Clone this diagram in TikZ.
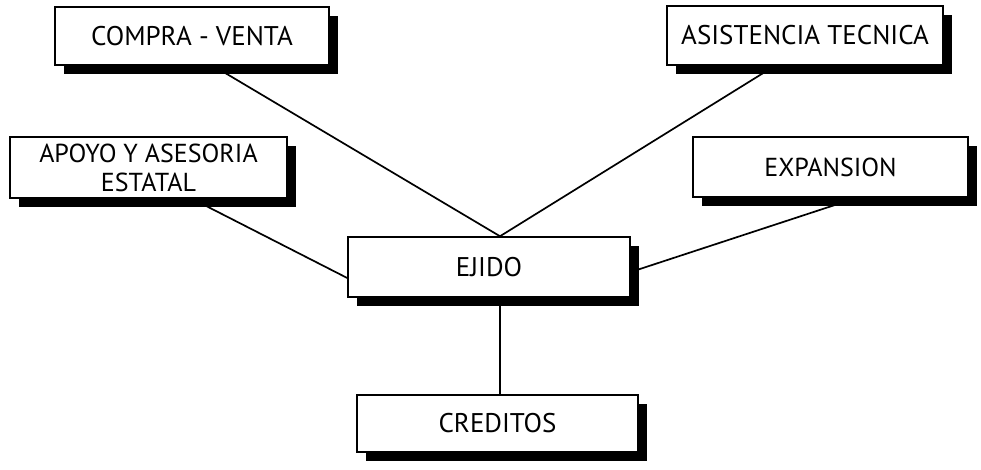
\documentclass[tikz,border=0pt]{standalone}
\usepackage{fontspec}
\setmainfont{PT Sans}
\usetikzlibrary{shadows,calc,backgrounds}
\begin{document}
\begin{tikzpicture}[x=1pt,y=1pt,
  box/.style={draw=black, line width=1.5pt, fill=white, align=center,
    inner sep=0pt, font=\fontsize{27}{29}\selectfont,
    drop shadow={shadow xshift=9pt, shadow yshift=-9pt, fill=black, opacity=1}},
  link/.style={line width=1.7pt}]
\useasboundingbox (0,0) rectangle (981,469);
\node[box, minimum width=274pt, minimum height=58pt] (compra) at (192,433) {COMPRA - VENTA};
\node[box, minimum width=276pt, minimum height=59pt] (asist) at (805,433.5) {ASISTENCIA TECNICA};
\node[box, minimum width=277pt, minimum height=61pt, font=\fontsize{26}{29}\selectfont] (apoyo) at (148.5,301.5) {APOYO Y ASESORIA\\ESTATAL};
\node[box, minimum width=275pt, minimum height=60pt, font=\fontsize{26}{29}\selectfont] (expan) at (830.5,302) {EXPANSION};
\node[box, minimum width=282pt, minimum height=60pt, font=\fontsize{27}{29}\selectfont] (ejido) at (489,202) {EJIDO};
\node[box, minimum width=281pt, minimum height=57pt] (cred) at (497.5,45.5) {CREDITOS};
\begin{scope}[on background layer]
\draw[link] ([xshift=21pt]compra.south) -- ([xshift=11pt]ejido.north);
\draw[link] ([xshift=-30pt]asist.south) -- ([xshift=11pt]ejido.north);
\draw[link] ([xshift=43.5pt]apoyo.south) -- ([yshift=-11pt]ejido.west);
\draw[link] ([xshift=26.5pt]expan.south) -- ([yshift=-5pt]ejido.east);
\draw[link] ([xshift=11pt]ejido.south) -- ([xshift=2.5pt]cred.north);
\end{scope}
\end{tikzpicture}
\end{document}
